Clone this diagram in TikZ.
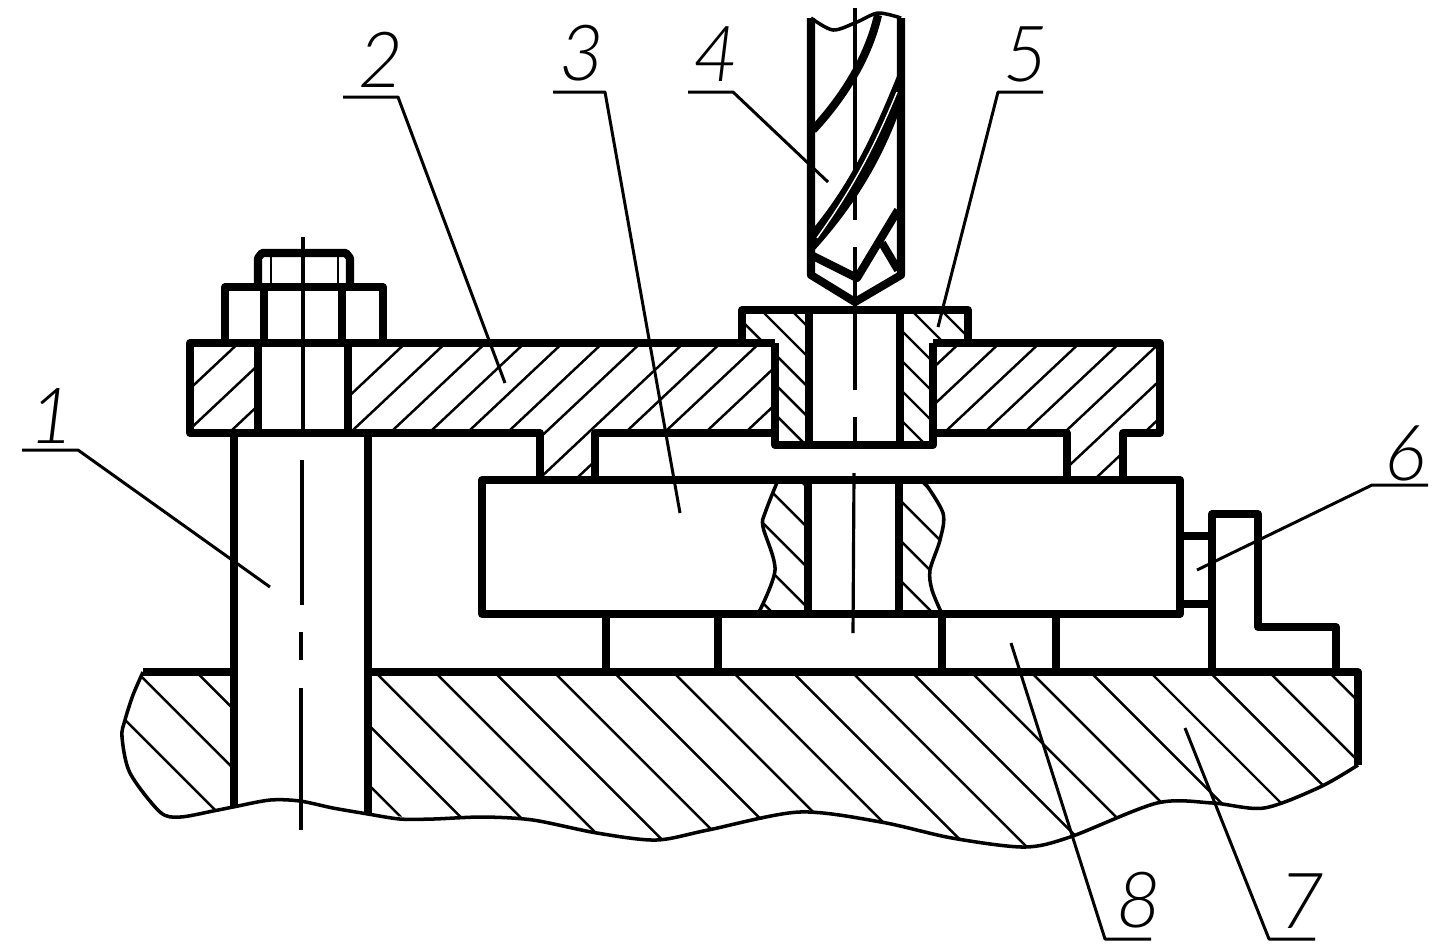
\documentclass[tikz,border=0pt]{standalone}
\usepackage{tikz}
\usepackage{fontspec}
\newfontfamily\numfont{Lato Light}

\newcommand{\platelines}[1]{\foreach \xa in {#1}
	\draw[hatchline] (\xa-60,486.4) -- (\xa+140,298.4);}
\newcommand{\downlines}[1]{\foreach \ca in {#1}
	\draw[hatchline] (100,100+\ca) -- (1400,1400+\ca);}

\begin{document}
\begin{tikzpicture}[x=0.01cm, y=-0.01cm, line join=round,
	part/.style = {draw, line width=2.3pt},
	hatchline/.style = {draw, line width=0.7pt},
	axisline/.style = {draw, line width=0.9pt},
	breakline/.style = {draw, line width=1pt},
	leader/.style = {draw, line width=0.85pt},
	num/.style = {font=\fontsize{22}{22}\numfont\itshape, inner sep=0pt}]
\useasboundingbox (0,0) rectangle (1443,947);

\begin{scope}
\clip (190,343) rectangle (258,433)
	(348,343) -- (775,343) -- (775,433) -- (595,433) -- (595,478) -- (540,478) -- (540,433) -- (348,433) -- cycle;
\platelines{146,189,232,313,353,393,432,470,510,548,591,628,667,708,748}
\end{scope}
\begin{scope}
\clip (933,343) -- (1160,343) -- (1160,433) -- (1123,433) -- (1123,478) -- (1067,478) -- (1067,433) -- (933,433) -- cycle;
\platelines{867,907,947,987,1027,1067,1107,1147}
\end{scope}

\begin{scope}
\clip (742,310) -- (809,310) -- (809,445) -- (775,445) -- (775,343) -- (742,343) -- cycle
	(900,310) -- (968,310) -- (968,343) -- (933,343) -- (933,445) -- (900,445) -- cycle;
\downlines{-361,-391,-421,-451,-481,-511,-541,-571,-601,-631}
\end{scope}

\begin{scope}
\clip (778,480) -- (808,480) -- (808,614) -- (758,614) -- (775,570) -- (763,527) -- (765,513) -- cycle
	(899,480) -- (923,480) -- (943,513) -- (940,540) -- (930,570) -- (932,590) -- (942,614) -- (899,614) -- cycle;
\downlines{-160,-200,-240,-280,-320,-360,-400,-440}
\end{scope}

\begin{scope}
\clip (143,672) -- (234,672) -- (234,807) -- (213,811) -- (180,817) -- (160,812) -- (130,773) -- (122,737) -- (125,720) -- (133,695) -- cycle
	(368,672) -- (1358,672) -- (1358,765) -- (1320,787) -- (1264,808) -- (1213,803) -- (1157,803) -- (1070,837) -- (1024,847) -- (952,838) -- (881,822) -- (799,812) -- (708,830) -- (656,840) -- (597,833) -- (533,820) -- (483,817) -- (433,819) -- (368,814) -- cycle;
\foreach \ka in {-13,...,8}
	\draw[hatchline] (100,{100+118+59.6*\ka}) -- (1400,{1400+118+59.6*\ka});
\end{scope}

\draw[axisline] (303,237) -- (303,437);
\draw[axisline] (302,460) -- (302,605);
\draw[axisline] (301,632) -- (301,660);
\draw[axisline] (301,688) -- (301,830);
\draw[axisline] (855,8) -- (855,220);
\draw[axisline] (855,247) -- (855,390);
\draw[axisline] (855,417) -- (855,442);
\draw[axisline] (854,473) -- (853,633);

\draw[part] (258,287) -- (258,258) -- (262,253) -- (346,253) -- (350,258) -- (350,287);
\draw[hatchline] (271,253) -- (271,287);
\draw[hatchline] (338,253) -- (338,287);
\draw[part] (225,343) -- (225,287) -- (383,287) -- (383,343);
\draw[part] (264,287) -- (264,343);
\draw[part] (342,287) -- (342,343);

\draw[part] (775,343) -- (190,343) -- (190,433) -- (540,433) -- (540,478);
\draw[part] (595,478) -- (595,433) -- (775,433);
\draw[part] (933,343) -- (1160,343) -- (1160,433) -- (1123,433) -- (1123,478);
\draw[part] (1067,478) -- (1067,433) -- (933,433);
\draw[part] (258,343) -- (258,433);
\draw[part] (348,343) -- (348,433);
\draw[part] (234,433) -- (234,807);
\draw[part] (368,433) -- (368,814);

\draw[part] (742,343) -- (742,310) -- (968,310) -- (968,343);
\draw[part] (775,343) -- (775,445) -- (933,445) -- (933,343);
\draw[part] (809,310) -- (809,445);
\draw[part] (900,310) -- (900,445);

\draw[part] (482,480) rectangle (1180,614);
\draw[part] (808,480) -- (808,614);
\draw[part] (899,480) -- (899,614);
\draw[breakline] plot[smooth] coordinates {(778,480) (765,513) (763,527) (775,570) (758,614)};
\draw[breakline] plot[smooth] coordinates {(923,480) (943,513) (940,540) (930,570) (932,590) (942,614)};

\draw[part] (606,614) -- (606,672);
\draw[part] (718,614) -- (718,672);
\draw[part] (942,614) -- (942,672);
\draw[part] (1056,614) -- (1056,672);
\draw[part] (143,672) -- (234,672);
\draw[part] (368,672) -- (1358,672) -- (1358,765);
\draw[part] (1180,536) -- (1212,536);
\draw[part] (1180,604) -- (1212,604);
\draw[part] (1212,672) -- (1212,514) -- (1258,514) -- (1258,627) -- (1336,627) -- (1336,672);

\draw[breakline] plot[smooth] coordinates {(143,672) (133,695) (125,720) (122,737) (130,773) (160,812) (180,817) (213,811) (233,807) (270,800) (300,801) (333,808) (368,814) (400,819) (433,819) (483,817) (533,820) (597,833) (656,840) (708,830) (799,812) (881,822) (952,838) (1024,847) (1070,837) (1157,803) (1213,803) (1264,808) (1320,787) (1358,765)};

\draw[part] (811,18) -- (811,275) -- (855,302) -- (901,275) -- (901,18);
\draw[breakline] plot[smooth] coordinates {(811,18) (833,30) (857,22) (878,13) (901,18)};
\draw[part] (878,15) .. controls (870,50) and (850,90) .. (813,130);
\draw[fill=black] (901,68) .. controls (880,120) and (855,180) .. (811,232) -- (811,253) .. controls (860,200) and (885,150) .. (901,105) -- cycle;
\draw[white, line width=0.4pt] (897,92) .. controls (875,145) and (855,185) .. (817,238);
\draw[part] (813,256) -- (857,278) -- (898,210);
\draw[part] (882,243) -- (898,270);

\node[num] (n1) at (52,416) {1};
\node[num] (n2) at (381,60) {2};
\node[num] (n3) at (582,53) {3};
\node[num] (n4) at (716,54) {4};
\node[num] (n5) at (1026,54) {5};
\node[num] (n6) at (1405,453) {6};
\node[num] (n7) at (1302,901) {7};
\node[num] (n8) at (1139,900) {8};

\coordinate (s1) at (22,450);
\coordinate (b1) at (78,450);
\coordinate (e1) at (270,587);
\coordinate (s2) at (343,97);
\coordinate (b2) at (398,97);
\coordinate (e2) at (505,383);
\coordinate (s3) at (553,92);
\coordinate (b3) at (605,92);
\coordinate (e3) at (680,513);
\coordinate (s4) at (688,92);
\coordinate (b4) at (733,92);
\coordinate (e4) at (828,182);
\coordinate (s5) at (1043,92);
\coordinate (b5) at (998,92);
\coordinate (e5) at (938,327);
\coordinate (s6) at (1428,485);
\coordinate (b6) at (1372,485);
\coordinate (e6) at (1197,570);
\coordinate (s7) at (1315,939);
\coordinate (b7) at (1269,939);
\coordinate (e7) at (1185,728);
\coordinate (s8) at (1151,939);
\coordinate (b8) at (1105,939);
\coordinate (e8) at (1011,643);
\foreach \na in {1,...,8}
	\draw[leader] (s\na) -- (b\na) -- (e\na);
\end{tikzpicture}
\end{document}
